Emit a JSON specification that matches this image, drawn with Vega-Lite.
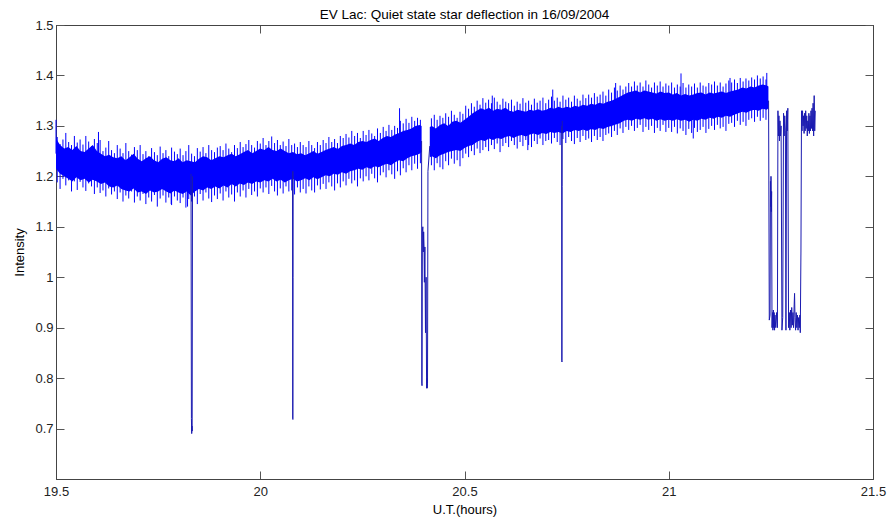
{
  "$schema": "https://vega.github.io/schema/vega-lite/v6.json",
  "width": 817,
  "height": 454,
  "autosize": {"type": "none"},
  "padding": {"left": 56, "top": 25, "right": 17, "bottom": 39},
  "background": "white",
  "title": {"text": "EV Lac: Quiet state star deflection in 16/09/2004", "font": "Liberation Sans", "fontSize": 13.5, "fontWeight": "normal", "color": "#000", "offset": -2, "anchor": "middle"},
  "config": {
    "view": {"stroke": "#444", "strokeWidth": 1},
    "axis": {"labelFont": "Liberation Sans", "labelFontSize": 13, "labelColor": "#222", "titleFont": "Liberation Sans", "titleFontSize": 13, "titleFontWeight": "normal", "titleColor": "#000", "domainColor": "#444", "tickColor": "#555", "tickSize": -8, "grid": false}
  },
  "datasets": {
    "band": [
      {"s":1,"x":19.50,"lo":1.215,"hi":1.275},{"s":1,"x":19.51,"lo":1.205,"hi":1.262},{"s":1,"x":19.52,"lo":1.200,"hi":1.255},{"s":1,"x":19.53,"lo":1.195,"hi":1.258},{"s":1,"x":19.54,"lo":1.190,"hi":1.252},
      {"s":1,"x":19.55,"lo":1.198,"hi":1.260},{"s":1,"x":19.56,"lo":1.192,"hi":1.250},{"s":1,"x":19.57,"lo":1.195,"hi":1.248},{"s":1,"x":19.58,"lo":1.188,"hi":1.255},{"s":1,"x":19.59,"lo":1.193,"hi":1.262},
      {"s":1,"x":19.60,"lo":1.190,"hi":1.250},{"s":1,"x":19.61,"lo":1.185,"hi":1.245},{"s":1,"x":19.62,"lo":1.188,"hi":1.240},{"s":1,"x":19.63,"lo":1.180,"hi":1.243},{"s":1,"x":19.64,"lo":1.178,"hi":1.238},
      {"s":1,"x":19.65,"lo":1.182,"hi":1.236},{"s":1,"x":19.66,"lo":1.175,"hi":1.240},{"s":1,"x":19.67,"lo":1.172,"hi":1.232},{"s":1,"x":19.68,"lo":1.170,"hi":1.238},{"s":1,"x":19.69,"lo":1.176,"hi":1.245},
      {"s":1,"x":19.70,"lo":1.168,"hi":1.235},{"s":1,"x":19.71,"lo":1.170,"hi":1.230},{"s":1,"x":19.72,"lo":1.165,"hi":1.236},{"s":1,"x":19.73,"lo":1.172,"hi":1.240},{"s":1,"x":19.74,"lo":1.168,"hi":1.232},
      {"s":1,"x":19.75,"lo":1.170,"hi":1.228},{"s":1,"x":19.76,"lo":1.175,"hi":1.235},{"s":1,"x":19.77,"lo":1.170,"hi":1.238},{"s":1,"x":19.78,"lo":1.166,"hi":1.232},{"s":1,"x":19.79,"lo":1.172,"hi":1.230},
      {"s":1,"x":19.80,"lo":1.168,"hi":1.236},{"s":1,"x":19.81,"lo":1.165,"hi":1.228},{"s":1,"x":19.82,"lo":1.170,"hi":1.232},{"s":1,"x":19.83,"lo":1.162,"hi":1.230},{"s":1,"x":19.84,"lo":1.170,"hi":1.228},
      {"s":1,"x":19.85,"lo":1.175,"hi":1.235},{"s":1,"x":19.86,"lo":1.172,"hi":1.240},{"s":1,"x":19.87,"lo":1.178,"hi":1.238},{"s":1,"x":19.88,"lo":1.175,"hi":1.232},{"s":1,"x":19.89,"lo":1.180,"hi":1.236},
      {"s":1,"x":19.90,"lo":1.176,"hi":1.240},{"s":1,"x":19.91,"lo":1.182,"hi":1.238},{"s":1,"x":19.92,"lo":1.178,"hi":1.242},{"s":1,"x":19.93,"lo":1.185,"hi":1.245},{"s":1,"x":19.94,"lo":1.180,"hi":1.240},
      {"s":1,"x":19.95,"lo":1.186,"hi":1.244},{"s":1,"x":19.96,"lo":1.183,"hi":1.248},{"s":1,"x":19.97,"lo":1.188,"hi":1.252},{"s":1,"x":19.98,"lo":1.185,"hi":1.246},{"s":1,"x":19.99,"lo":1.190,"hi":1.250},
      {"s":1,"x":20.00,"lo":1.188,"hi":1.255},{"s":1,"x":20.01,"lo":1.192,"hi":1.252},{"s":1,"x":20.02,"lo":1.190,"hi":1.258},{"s":1,"x":20.03,"lo":1.195,"hi":1.252},{"s":1,"x":20.04,"lo":1.190,"hi":1.250},
      {"s":1,"x":20.05,"lo":1.193,"hi":1.255},{"s":1,"x":20.06,"lo":1.188,"hi":1.250},{"s":1,"x":20.07,"lo":1.192,"hi":1.246},{"s":1,"x":20.08,"lo":1.195,"hi":1.248},{"s":1,"x":20.09,"lo":1.190,"hi":1.244},
      {"s":1,"x":20.10,"lo":1.192,"hi":1.246},{"s":1,"x":20.11,"lo":1.196,"hi":1.242},{"s":1,"x":20.12,"lo":1.192,"hi":1.246},{"s":1,"x":20.13,"lo":1.198,"hi":1.250},{"s":1,"x":20.14,"lo":1.194,"hi":1.245},
      {"s":1,"x":20.15,"lo":1.198,"hi":1.248},{"s":1,"x":20.16,"lo":1.202,"hi":1.252},{"s":1,"x":20.17,"lo":1.200,"hi":1.255},{"s":1,"x":20.18,"lo":1.205,"hi":1.258},{"s":1,"x":20.19,"lo":1.203,"hi":1.254},
      {"s":1,"x":20.20,"lo":1.208,"hi":1.260},{"s":1,"x":20.21,"lo":1.205,"hi":1.262},{"s":1,"x":20.22,"lo":1.210,"hi":1.265},{"s":1,"x":20.23,"lo":1.212,"hi":1.262},{"s":1,"x":20.24,"lo":1.215,"hi":1.268},
      {"s":1,"x":20.25,"lo":1.213,"hi":1.270},{"s":1,"x":20.26,"lo":1.218,"hi":1.268},{"s":1,"x":20.27,"lo":1.215,"hi":1.272},{"s":1,"x":20.28,"lo":1.220,"hi":1.275},{"s":1,"x":20.29,"lo":1.218,"hi":1.270},
      {"s":1,"x":20.30,"lo":1.222,"hi":1.276},{"s":1,"x":20.31,"lo":1.225,"hi":1.280},{"s":1,"x":20.32,"lo":1.222,"hi":1.278},{"s":1,"x":20.33,"lo":1.228,"hi":1.283},{"s":1,"x":20.34,"lo":1.232,"hi":1.286},
      {"s":1,"x":20.35,"lo":1.230,"hi":1.290},{"s":1,"x":20.36,"lo":1.236,"hi":1.292},{"s":1,"x":20.37,"lo":1.240,"hi":1.295},{"s":1,"x":20.38,"lo":1.242,"hi":1.300},{"s":1,"x":20.39,"lo":1.245,"hi":1.302},
      {"s":1,"x":20.395,"lo":1.248,"hi":1.300},
      {"s":2,"x":20.415,"lo":1.238,"hi":1.298},{"s":2,"x":20.42,"lo":1.240,"hi":1.300},{"s":2,"x":20.43,"lo":1.236,"hi":1.295},{"s":2,"x":20.44,"lo":1.242,"hi":1.302},
      {"s":2,"x":20.45,"lo":1.245,"hi":1.305},{"s":2,"x":20.46,"lo":1.248,"hi":1.300},{"s":2,"x":20.47,"lo":1.250,"hi":1.308},{"s":2,"x":20.48,"lo":1.252,"hi":1.310},{"s":2,"x":20.49,"lo":1.250,"hi":1.306},
      {"s":2,"x":20.50,"lo":1.256,"hi":1.312},{"s":2,"x":20.51,"lo":1.260,"hi":1.318},{"s":2,"x":20.52,"lo":1.262,"hi":1.325},{"s":2,"x":20.53,"lo":1.268,"hi":1.330},{"s":2,"x":20.54,"lo":1.272,"hi":1.335},
      {"s":2,"x":20.55,"lo":1.270,"hi":1.332},{"s":2,"x":20.56,"lo":1.275,"hi":1.336},{"s":2,"x":20.57,"lo":1.272,"hi":1.330},{"s":2,"x":20.58,"lo":1.276,"hi":1.334},{"s":2,"x":20.59,"lo":1.274,"hi":1.332},
      {"s":2,"x":20.60,"lo":1.278,"hi":1.336},{"s":2,"x":20.61,"lo":1.280,"hi":1.330},{"s":2,"x":20.62,"lo":1.276,"hi":1.328},{"s":2,"x":20.63,"lo":1.280,"hi":1.332},{"s":2,"x":20.64,"lo":1.282,"hi":1.330},
      {"s":2,"x":20.65,"lo":1.279,"hi":1.328},{"s":2,"x":20.66,"lo":1.283,"hi":1.332},{"s":2,"x":20.67,"lo":1.285,"hi":1.330},{"s":2,"x":20.68,"lo":1.282,"hi":1.333},{"s":2,"x":20.69,"lo":1.286,"hi":1.330},
      {"s":2,"x":20.70,"lo":1.284,"hi":1.332},{"s":2,"x":20.71,"lo":1.288,"hi":1.336},{"s":2,"x":20.72,"lo":1.286,"hi":1.334},{"s":2,"x":20.73,"lo":1.288,"hi":1.338},{"s":2,"x":20.74,"lo":1.285,"hi":1.335},
      {"s":2,"x":20.75,"lo":1.290,"hi":1.338},{"s":2,"x":20.76,"lo":1.288,"hi":1.336},{"s":2,"x":20.77,"lo":1.292,"hi":1.340},{"s":2,"x":20.78,"lo":1.290,"hi":1.338},{"s":2,"x":20.79,"lo":1.293,"hi":1.342},
      {"s":2,"x":20.80,"lo":1.290,"hi":1.340},{"s":2,"x":20.81,"lo":1.294,"hi":1.344},{"s":2,"x":20.82,"lo":1.292,"hi":1.342},{"s":2,"x":20.83,"lo":1.296,"hi":1.346},{"s":2,"x":20.84,"lo":1.294,"hi":1.344},
      {"s":2,"x":20.85,"lo":1.298,"hi":1.348},{"s":2,"x":20.86,"lo":1.300,"hi":1.350},{"s":2,"x":20.87,"lo":1.303,"hi":1.354},{"s":2,"x":20.88,"lo":1.305,"hi":1.358},{"s":2,"x":20.89,"lo":1.310,"hi":1.362},
      {"s":2,"x":20.90,"lo":1.312,"hi":1.366},{"s":2,"x":20.91,"lo":1.310,"hi":1.368},{"s":2,"x":20.92,"lo":1.314,"hi":1.370},{"s":2,"x":20.93,"lo":1.312,"hi":1.366},{"s":2,"x":20.94,"lo":1.315,"hi":1.370},
      {"s":2,"x":20.95,"lo":1.312,"hi":1.368},{"s":2,"x":20.96,"lo":1.314,"hi":1.366},{"s":2,"x":20.97,"lo":1.310,"hi":1.364},{"s":2,"x":20.98,"lo":1.313,"hi":1.368},{"s":2,"x":20.99,"lo":1.310,"hi":1.365},
      {"s":2,"x":21.00,"lo":1.312,"hi":1.366},{"s":2,"x":21.01,"lo":1.310,"hi":1.362},{"s":2,"x":21.02,"lo":1.313,"hi":1.365},{"s":2,"x":21.03,"lo":1.310,"hi":1.360},{"s":2,"x":21.04,"lo":1.312,"hi":1.363},
      {"s":2,"x":21.05,"lo":1.308,"hi":1.360},{"s":2,"x":21.06,"lo":1.312,"hi":1.362},{"s":2,"x":21.07,"lo":1.310,"hi":1.365},{"s":2,"x":21.08,"lo":1.314,"hi":1.366},{"s":2,"x":21.09,"lo":1.312,"hi":1.362},
      {"s":2,"x":21.10,"lo":1.316,"hi":1.366},{"s":2,"x":21.11,"lo":1.314,"hi":1.364},{"s":2,"x":21.12,"lo":1.318,"hi":1.366},{"s":2,"x":21.13,"lo":1.316,"hi":1.368},{"s":2,"x":21.14,"lo":1.320,"hi":1.365},
      {"s":2,"x":21.15,"lo":1.318,"hi":1.368},{"s":2,"x":21.16,"lo":1.322,"hi":1.370},{"s":2,"x":21.17,"lo":1.325,"hi":1.372},{"s":2,"x":21.18,"lo":1.328,"hi":1.376},{"s":2,"x":21.19,"lo":1.326,"hi":1.374},
      {"s":2,"x":21.20,"lo":1.330,"hi":1.378},{"s":2,"x":21.21,"lo":1.332,"hi":1.376},{"s":2,"x":21.22,"lo":1.330,"hi":1.380},{"s":2,"x":21.23,"lo":1.334,"hi":1.382},{"s":2,"x":21.24,"lo":1.332,"hi":1.380},
      {"s":2,"x":21.244,"lo":1.335,"hi":1.378}
    ],
    "hairs": [
      {"x":19.503,"a":1.188,"c":1.278},{"x":19.510,"a":1.175,"c":1.264},{"x":19.517,"a":1.195,"c":1.273},{"x":19.524,"a":1.182,"c":1.286},{"x":19.531,"a":1.192,"c":1.268},
      {"x":19.538,"a":1.170,"c":1.262},{"x":19.545,"a":1.190,"c":1.280},{"x":19.552,"a":1.173,"c":1.267},{"x":19.559,"a":1.189,"c":1.273},{"x":19.566,"a":1.178,"c":1.263},
      {"x":19.573,"a":1.171,"c":1.280},{"x":19.580,"a":1.186,"c":1.269},{"x":19.587,"a":1.180,"c":1.260},{"x":19.594,"a":1.165,"c":1.274},{"x":19.601,"a":1.178,"c":1.266},
      {"x":19.608,"a":1.167,"c":1.272},{"x":19.615,"a":1.172,"c":1.250},{"x":19.622,"a":1.160,"c":1.257},{"x":19.629,"a":1.176,"c":1.270},{"x":19.636,"a":1.164,"c":1.252},
      {"x":19.643,"a":1.170,"c":1.246},{"x":19.650,"a":1.155,"c":1.262},{"x":19.657,"a":1.168,"c":1.255},{"x":19.664,"a":1.150,"c":1.246},{"x":19.671,"a":1.162,"c":1.266},
      {"x":19.678,"a":1.156,"c":1.250},{"x":19.685,"a":1.170,"c":1.243},{"x":19.692,"a":1.148,"c":1.258},{"x":19.699,"a":1.160,"c":1.252},{"x":19.706,"a":1.152,"c":1.262},
      {"x":19.713,"a":1.165,"c":1.244},{"x":19.720,"a":1.145,"c":1.250},{"x":19.727,"a":1.158,"c":1.240},{"x":19.734,"a":1.150,"c":1.256},{"x":19.741,"a":1.163,"c":1.248},
      {"x":19.748,"a":1.140,"c":1.242},{"x":19.755,"a":1.156,"c":1.259},{"x":19.762,"a":1.162,"c":1.246},{"x":19.769,"a":1.148,"c":1.252},{"x":19.776,"a":1.158,"c":1.240},
      {"x":19.783,"a":1.143,"c":1.257},{"x":19.790,"a":1.160,"c":1.249},{"x":19.797,"a":1.152,"c":1.244},{"x":19.804,"a":1.147,"c":1.255},{"x":19.811,"a":1.158,"c":1.242},
      {"x":19.818,"a":1.138,"c":1.250},{"x":19.825,"a":1.155,"c":1.262},{"x":19.832,"a":1.150,"c":1.245},{"x":19.839,"a":1.160,"c":1.240},{"x":19.846,"a":1.145,"c":1.256},
      {"x":19.853,"a":1.165,"c":1.249},{"x":19.860,"a":1.152,"c":1.258},{"x":19.867,"a":1.168,"c":1.246},{"x":19.874,"a":1.156,"c":1.262},{"x":19.881,"a":1.149,"c":1.252},
      {"x":19.888,"a":1.162,"c":1.248},{"x":19.895,"a":1.155,"c":1.257},{"x":19.902,"a":1.166,"c":1.260},{"x":19.909,"a":1.152,"c":1.252},{"x":19.916,"a":1.170,"c":1.265},
      {"x":19.923,"a":1.158,"c":1.255},{"x":19.930,"a":1.164,"c":1.248},{"x":19.937,"a":1.150,"c":1.262},{"x":19.944,"a":1.168,"c":1.256},{"x":19.951,"a":1.160,"c":1.268},
      {"x":19.958,"a":1.172,"c":1.258},{"x":19.965,"a":1.158,"c":1.264},{"x":19.972,"a":1.175,"c":1.272},{"x":19.979,"a":1.163,"c":1.262},{"x":19.986,"a":1.170,"c":1.257},
      {"x":19.993,"a":1.160,"c":1.270},{"x":20.000,"a":1.176,"c":1.265},{"x":20.007,"a":1.168,"c":1.276},{"x":20.014,"a":1.178,"c":1.262},{"x":20.021,"a":1.165,"c":1.270},
      {"x":20.028,"a":1.181,"c":1.279},{"x":20.035,"a":1.170,"c":1.266},{"x":20.042,"a":1.162,"c":1.272},{"x":20.049,"a":1.176,"c":1.262},{"x":20.056,"a":1.166,"c":1.269},
      {"x":20.063,"a":1.180,"c":1.260},{"x":20.070,"a":1.170,"c":1.274},{"x":20.077,"a":1.172,"c":1.262},{"x":20.084,"a":1.164,"c":1.265},{"x":20.091,"a":1.178,"c":1.258},
      {"x":20.098,"a":1.168,"c":1.268},{"x":20.105,"a":1.175,"c":1.262},{"x":20.112,"a":1.166,"c":1.258},{"x":20.119,"a":1.180,"c":1.270},{"x":20.126,"a":1.172,"c":1.262},
      {"x":20.133,"a":1.168,"c":1.256},{"x":20.140,"a":1.182,"c":1.268},{"x":20.147,"a":1.174,"c":1.262},{"x":20.154,"a":1.185,"c":1.272},{"x":20.161,"a":1.175,"c":1.266},
      {"x":20.168,"a":1.188,"c":1.278},{"x":20.175,"a":1.180,"c":1.268},{"x":20.182,"a":1.172,"c":1.274},{"x":20.189,"a":1.186,"c":1.266},{"x":20.196,"a":1.178,"c":1.280},
      {"x":20.203,"a":1.190,"c":1.276},{"x":20.210,"a":1.182,"c":1.284},{"x":20.217,"a":1.195,"c":1.277},{"x":20.224,"a":1.186,"c":1.290},{"x":20.231,"a":1.192,"c":1.280},
      {"x":20.238,"a":1.180,"c":1.286},{"x":20.245,"a":1.196,"c":1.276},{"x":20.252,"a":1.190,"c":1.290},{"x":20.259,"a":1.200,"c":1.282},{"x":20.266,"a":1.192,"c":1.292},
      {"x":20.273,"a":1.205,"c":1.285},{"x":20.280,"a":1.196,"c":1.280},{"x":20.287,"a":1.188,"c":1.295},{"x":20.294,"a":1.202,"c":1.286},{"x":20.301,"a":1.208,"c":1.298},
      {"x":20.308,"a":1.198,"c":1.290},{"x":20.315,"a":1.212,"c":1.302},{"x":20.322,"a":1.204,"c":1.292},{"x":20.329,"a":1.195,"c":1.300},{"x":20.336,"a":1.210,"c":1.296},
      {"x":20.343,"a":1.202,"c":1.310},{"x":20.350,"a":1.216,"c":1.305},{"x":20.357,"a":1.208,"c":1.314},{"x":20.364,"a":1.222,"c":1.306},{"x":20.371,"a":1.212,"c":1.318},
      {"x":20.378,"a":1.225,"c":1.310},{"x":20.385,"a":1.215,"c":1.316},{"x":20.392,"a":1.226,"c":1.312},
      {"x":20.419,"a":1.222,"c":1.315},{"x":20.426,"a":1.212,"c":1.322},{"x":20.433,"a":1.226,"c":1.312},{"x":20.440,"a":1.218,"c":1.320},{"x":20.447,"a":1.214,"c":1.316},
      {"x":20.454,"a":1.230,"c":1.325},{"x":20.461,"a":1.222,"c":1.318},{"x":20.468,"a":1.235,"c":1.330},{"x":20.475,"a":1.225,"c":1.322},{"x":20.482,"a":1.232,"c":1.316},
      {"x":20.489,"a":1.220,"c":1.328},{"x":20.496,"a":1.236,"c":1.324},{"x":20.503,"a":1.245,"c":1.340},{"x":20.510,"a":1.238,"c":1.334},{"x":20.517,"a":1.250,"c":1.345},
      {"x":20.524,"a":1.242,"c":1.338},{"x":20.531,"a":1.255,"c":1.350},{"x":20.538,"a":1.246,"c":1.342},{"x":20.545,"a":1.252,"c":1.355},{"x":20.552,"a":1.258,"c":1.346},
      {"x":20.559,"a":1.250,"c":1.352},{"x":20.566,"a":1.262,"c":1.345},{"x":20.573,"a":1.254,"c":1.356},{"x":20.580,"a":1.265,"c":1.348},{"x":20.587,"a":1.248,"c":1.342},
      {"x":20.594,"a":1.260,"c":1.354},{"x":20.601,"a":1.266,"c":1.348},{"x":20.608,"a":1.258,"c":1.345},{"x":20.615,"a":1.270,"c":1.352},{"x":20.622,"a":1.262,"c":1.340},
      {"x":20.629,"a":1.255,"c":1.348},{"x":20.636,"a":1.268,"c":1.344},{"x":20.643,"a":1.260,"c":1.355},{"x":20.650,"a":1.272,"c":1.346},{"x":20.657,"a":1.262,"c":1.350},
      {"x":20.664,"a":1.258,"c":1.342},{"x":20.671,"a":1.270,"c":1.354},{"x":20.678,"a":1.264,"c":1.346},{"x":20.685,"a":1.275,"c":1.350},{"x":20.692,"a":1.262,"c":1.356},
      {"x":20.699,"a":1.270,"c":1.345},{"x":20.706,"a":1.272,"c":1.352},{"x":20.713,"a":1.265,"c":1.358},{"x":20.720,"a":1.276,"c":1.350},{"x":20.727,"a":1.268,"c":1.356},
      {"x":20.734,"a":1.262,"c":1.348},{"x":20.741,"a":1.274,"c":1.360},{"x":20.748,"a":1.266,"c":1.352},{"x":20.755,"a":1.278,"c":1.356},{"x":20.762,"a":1.270,"c":1.348},
      {"x":20.769,"a":1.264,"c":1.360},{"x":20.776,"a":1.276,"c":1.354},{"x":20.783,"a":1.268,"c":1.350},{"x":20.790,"a":1.280,"c":1.362},{"x":20.797,"a":1.272,"c":1.355},
      {"x":20.804,"a":1.275,"c":1.362},{"x":20.811,"a":1.268,"c":1.356},{"x":20.818,"a":1.280,"c":1.365},{"x":20.825,"a":1.272,"c":1.358},{"x":20.832,"a":1.278,"c":1.362},
      {"x":20.839,"a":1.270,"c":1.368},{"x":20.846,"a":1.282,"c":1.360},{"x":20.853,"a":1.285,"c":1.372},{"x":20.860,"a":1.278,"c":1.366},{"x":20.867,"a":1.290,"c":1.376},
      {"x":20.874,"a":1.282,"c":1.370},{"x":20.881,"a":1.295,"c":1.380},{"x":20.888,"a":1.286,"c":1.372},{"x":20.895,"a":1.298,"c":1.378},{"x":20.902,"a":1.292,"c":1.385},
      {"x":20.909,"a":1.300,"c":1.378},{"x":20.916,"a":1.290,"c":1.388},{"x":20.923,"a":1.296,"c":1.380},{"x":20.930,"a":1.302,"c":1.386},{"x":20.937,"a":1.288,"c":1.378},
      {"x":20.944,"a":1.298,"c":1.390},{"x":20.951,"a":1.292,"c":1.382},{"x":20.958,"a":1.300,"c":1.376},{"x":20.965,"a":1.286,"c":1.386},{"x":20.972,"a":1.296,"c":1.380},
      {"x":20.979,"a":1.290,"c":1.388},{"x":20.986,"a":1.302,"c":1.378},{"x":20.993,"a":1.288,"c":1.384},{"x":21.000,"a":1.296,"c":1.380},{"x":21.007,"a":1.288,"c":1.386},
      {"x":21.014,"a":1.298,"c":1.376},{"x":21.021,"a":1.285,"c":1.382},{"x":21.028,"a":1.295,"c":1.378},{"x":21.035,"a":1.290,"c":1.385},{"x":21.042,"a":1.282,"c":1.376},
      {"x":21.049,"a":1.294,"c":1.382},{"x":21.056,"a":1.286,"c":1.378},{"x":21.063,"a":1.296,"c":1.384},{"x":21.070,"a":1.288,"c":1.376},{"x":21.077,"a":1.292,"c":1.386},
      {"x":21.084,"a":1.298,"c":1.380},{"x":21.091,"a":1.286,"c":1.378},{"x":21.098,"a":1.294,"c":1.385},{"x":21.105,"a":1.300,"c":1.382},{"x":21.112,"a":1.292,"c":1.388},
      {"x":21.119,"a":1.302,"c":1.380},{"x":21.126,"a":1.295,"c":1.386},{"x":21.133,"a":1.298,"c":1.378},{"x":21.140,"a":1.290,"c":1.384},{"x":21.147,"a":1.304,"c":1.390},
      {"x":21.154,"a":1.306,"c":1.386},{"x":21.161,"a":1.298,"c":1.392},{"x":21.168,"a":1.310,"c":1.385},{"x":21.175,"a":1.302,"c":1.395},{"x":21.182,"a":1.308,"c":1.388},
      {"x":21.189,"a":1.300,"c":1.394},{"x":21.196,"a":1.312,"c":1.390},{"x":21.203,"a":1.315,"c":1.396},{"x":21.210,"a":1.308,"c":1.392},{"x":21.217,"a":1.318,"c":1.400},
      {"x":21.224,"a":1.310,"c":1.394},{"x":21.231,"a":1.316,"c":1.398},{"x":21.238,"a":1.312,"c":1.392}
    ],
    "spikes": [
      {"x":19.500,"t":1.312,"b":1.245},{"x":19.604,"t":1.288,"b":1.220},{"x":19.822,"t":1.140,"b":1.198},{"x":20.341,"t":1.335,"b":1.258},{"x":20.568,"t":1.360,"b":1.302},
      {"x":20.716,"t":1.372,"b":1.310},{"x":21.030,"t":1.404,"b":1.335},{"x":21.240,"t":1.405,"b":1.356},{"x":19.782,"t":1.145,"b":1.200},{"x":20.870,"t":1.385,"b":1.328},
      {"x":21.150,"t":1.395,"b":1.343},{"x":21.060,"t":1.275,"b":1.337},{"x":20.655,"t":1.252,"b":1.306}
    ],
    "trace": [
      {"s":"d1","i":1,"x":19.8305,"y":1.205},{"s":"d1","i":2,"x":19.8315,"y":0.72},{"s":"d1","i":3,"x":19.8322,"y":0.69},{"s":"d1","i":4,"x":19.8328,"y":0.705},{"s":"d1","i":5,"x":19.8333,"y":0.695},{"s":"d1","i":6,"x":19.8342,"y":1.20},
      {"s":"d2","i":1,"x":20.0790,"y":1.21},{"s":"d2","i":2,"x":20.0795,"y":0.72},{"s":"d2","i":3,"x":20.0799,"y":0.718},{"s":"d2","i":4,"x":20.0803,"y":1.00},{"s":"d2","i":5,"x":20.0806,"y":1.21},
      {"s":"d3","i":1,"x":20.3950,"y":1.27},{"s":"d3","i":2,"x":20.3955,"y":0.79},{"s":"d3","i":3,"x":20.3960,"y":0.785},{"s":"d3","i":4,"x":20.3968,"y":1.09},{"s":"d3","i":5,"x":20.3980,"y":1.10},
      {"s":"d3","i":6,"x":20.3990,"y":1.05},{"s":"d3","i":7,"x":20.4000,"y":1.09},{"s":"d3","i":8,"x":20.4010,"y":1.06},{"s":"d3","i":9,"x":20.4018,"y":0.99},{"s":"d3","i":10,"x":20.4030,"y":1.06},
      {"s":"d3","i":11,"x":20.4045,"y":0.89},{"s":"d3","i":12,"x":20.4060,"y":1.00},{"s":"d3","i":13,"x":20.4072,"y":0.78},{"s":"d3","i":14,"x":20.4080,"y":0.80},{"s":"d3","i":15,"x":20.4088,"y":0.78},
      {"s":"d3","i":16,"x":20.4095,"y":0.79},{"s":"d3","i":17,"x":20.4105,"y":1.21},{"s":"d3","i":18,"x":20.4150,"y":1.26},
      {"s":"d4","i":1,"x":20.7378,"y":1.30},{"s":"d4","i":2,"x":20.7382,"y":0.835},{"s":"d4","i":3,"x":20.7386,"y":0.832},{"s":"d4","i":4,"x":20.7390,"y":1.18},{"s":"d4","i":5,"x":20.7393,"y":1.31},
      {"s":"d5","i":1,"x":21.2444,"y":1.35},{"s":"d5","i":2,"x":21.2461,"y":0.915},{"s":"d5","i":3,"x":21.2480,"y":0.925},{"s":"d5","i":4,"x":21.2490,"y":1.19},{"s":"d5","i":5,"x":21.2497,"y":1.14},
      {"s":"d5","i":6,"x":21.2503,"y":1.20},{"s":"d5","i":7,"x":21.2510,"y":1.13},{"s":"d5","i":8,"x":21.2518,"y":1.17},{"s":"d5","i":9,"x":21.2528,"y":0.90},{"s":"d5","i":10,"x":21.2540,"y":0.93},
      {"s":"d5","i":11,"x":21.2550,"y":0.895},{"s":"d5","i":12,"x":21.2560,"y":0.935},{"s":"d5","i":13,"x":21.2570,"y":0.90},{"s":"d5","i":14,"x":21.2580,"y":0.93},{"s":"d5","i":15,"x":21.2590,"y":0.895},
      {"s":"d5","i":16,"x":21.2600,"y":0.925},{"s":"d5","i":17,"x":21.2620,"y":0.90},{"s":"d5","i":18,"x":21.2640,"y":0.93},{"s":"d5","i":19,"x":21.2660,"y":0.90},{"s":"d5","i":20,"x":21.2673,"y":1.33},
      {"s":"d5","i":21,"x":21.2685,"y":1.28},{"s":"d5","i":22,"x":21.2697,"y":1.32},{"s":"d5","i":23,"x":21.2710,"y":1.27},{"s":"d5","i":24,"x":21.2722,"y":1.31},{"s":"d5","i":25,"x":21.2735,"y":1.28},
      {"s":"d5","i":26,"x":21.2750,"y":1.30},{"s":"d5","i":27,"x":21.2771,"y":0.895},{"s":"d5","i":28,"x":21.2790,"y":0.92},{"s":"d5","i":29,"x":21.2810,"y":1.325},{"s":"d5","i":30,"x":21.2825,"y":1.28},
      {"s":"d5","i":31,"x":21.2840,"y":1.32},{"s":"d5","i":32,"x":21.2855,"y":1.29},{"s":"d5","i":33,"x":21.2869,"y":0.895},{"s":"d5","i":34,"x":21.2885,"y":1.33},{"s":"d5","i":35,"x":21.2900,"y":1.29},
      {"s":"d5","i":36,"x":21.2915,"y":1.335},{"s":"d5","i":37,"x":21.2933,"y":0.90},{"s":"d5","i":38,"x":21.2950,"y":0.93},{"s":"d5","i":39,"x":21.2965,"y":0.895},{"s":"d5","i":40,"x":21.2980,"y":0.935},
      {"s":"d5","i":41,"x":21.2995,"y":0.90},{"s":"d5","i":42,"x":21.3010,"y":0.94},{"s":"d5","i":43,"x":21.3025,"y":0.905},{"s":"d5","i":44,"x":21.3040,"y":0.93},{"s":"d5","i":45,"x":21.3055,"y":0.90},
      {"s":"d5","i":46,"x":21.3070,"y":0.945},{"s":"d5","i":47,"x":21.3080,"y":0.968},{"s":"d5","i":48,"x":21.3090,"y":0.92},{"s":"d5","i":49,"x":21.3105,"y":0.895},{"s":"d5","i":50,"x":21.3120,"y":0.93},
      {"s":"d5","i":51,"x":21.3135,"y":0.90},{"s":"d5","i":52,"x":21.3150,"y":0.925},{"s":"d5","i":53,"x":21.3165,"y":0.895},{"s":"d5","i":54,"x":21.3180,"y":0.92},{"s":"d5","i":55,"x":21.3195,"y":0.90},
      {"s":"d5","i":56,"x":21.3210,"y":0.925},{"s":"d5","i":57,"x":21.3220,"y":0.89},{"s":"d5","i":58,"x":21.3236,"y":1.05},{"s":"d5","i":59,"x":21.3250,"y":1.33},{"s":"d5","i":60,"x":21.3262,"y":1.29},
      {"s":"d5","i":61,"x":21.3275,"y":1.33},{"s":"d5","i":62,"x":21.3288,"y":1.30},{"s":"d5","i":63,"x":21.3300,"y":1.32},{"s":"d5","i":64,"x":21.3313,"y":1.285},{"s":"d5","i":65,"x":21.3326,"y":1.325},
      {"s":"d5","i":66,"x":21.3339,"y":1.29},{"s":"d5","i":67,"x":21.3352,"y":1.33},{"s":"d5","i":68,"x":21.3365,"y":1.295},{"s":"d5","i":69,"x":21.3378,"y":1.32},{"s":"d5","i":70,"x":21.3391,"y":1.28},
      {"s":"d5","i":71,"x":21.3404,"y":1.31},{"s":"d5","i":72,"x":21.3417,"y":1.29},{"s":"d5","i":73,"x":21.3430,"y":1.325},{"s":"d5","i":74,"x":21.3443,"y":1.285},{"s":"d5","i":75,"x":21.3456,"y":1.32},
      {"s":"d5","i":76,"x":21.3469,"y":1.29},{"s":"d5","i":77,"x":21.3482,"y":1.33},{"s":"d5","i":78,"x":21.3495,"y":1.295},{"s":"d5","i":79,"x":21.3508,"y":1.335},{"s":"d5","i":80,"x":21.3521,"y":1.29},
      {"s":"d5","i":81,"x":21.3534,"y":1.345},{"s":"d5","i":82,"x":21.3547,"y":1.28},{"s":"d5","i":83,"x":21.3560,"y":1.36},{"s":"d5","i":84,"x":21.3573,"y":1.29},{"s":"d5","i":85,"x":21.3587,"y":1.33}
    ]
  },
  "layer": [
    {
      "data": {"name": "band"},
      "mark": {"type": "area", "color": "#0000ff", "opacity": 1},
      "encoding": {
        "x": {"field": "x", "type": "quantitative", "scale": {"domain": [19.5, 21.5], "nice": false, "zero": false},
              "axis": {"orient": "bottom", "values": [19.5, 20, 20.5, 21, 21.5], "format": "~g", "title": "U.T.(hours)", "labelPadding": 14, "titlePadding": 5, "labelFlush": false}},
        "y": {"field": "lo", "type": "quantitative", "scale": {"domain": [0.6, 1.5], "nice": false, "zero": false},
              "axis": {"orient": "left", "values": [0.7, 0.8, 0.9, 1, 1.1, 1.2, 1.3, 1.4, 1.5], "format": "~g", "title": "Intensity", "labelPadding": 11, "titlePadding": 8}},
        "y2": {"field": "hi"},
        "detail": {"field": "s"}
      }
    },
    {
      "data": {"name": "hairs"},
      "mark": {"type": "rule", "color": "#0000ff", "strokeWidth": 1},
      "encoding": {
        "x": {"field": "x", "type": "quantitative", "scale": {"domain": [19.5, 21.5], "nice": false, "zero": false},
              "axis": {"orient": "top", "values": [19.5, 20, 20.5, 21, 21.5], "labels": false, "title": null}},
        "y": {"field": "a", "type": "quantitative", "scale": {"domain": [0.6, 1.5], "nice": false, "zero": false},
              "axis": {"orient": "right", "values": [0.7, 0.8, 0.9, 1, 1.1, 1.2, 1.3, 1.4, 1.5], "labels": false, "title": null}},
        "y2": {"field": "c"}
      }
    },
    {
      "data": {"name": "spikes"},
      "mark": {"type": "rule", "color": "#0000ff", "strokeWidth": 1},
      "encoding": {
        "x": {"field": "x", "type": "quantitative", "axis": null},
        "y": {"field": "t", "type": "quantitative", "axis": null},
        "y2": {"field": "b"}
      }
    },
    {
      "data": {"name": "trace"},
      "mark": {"type": "line", "color": "#1a1ab0", "strokeWidth": 1},
      "encoding": {
        "x": {"field": "x", "type": "quantitative", "axis": null},
        "y": {"field": "y", "type": "quantitative", "axis": null},
        "detail": {"field": "s"},
        "order": {"field": "i"}
      }
    }
  ],
  "resolve": {"axis": {"x": "independent", "y": "independent"}}
}
